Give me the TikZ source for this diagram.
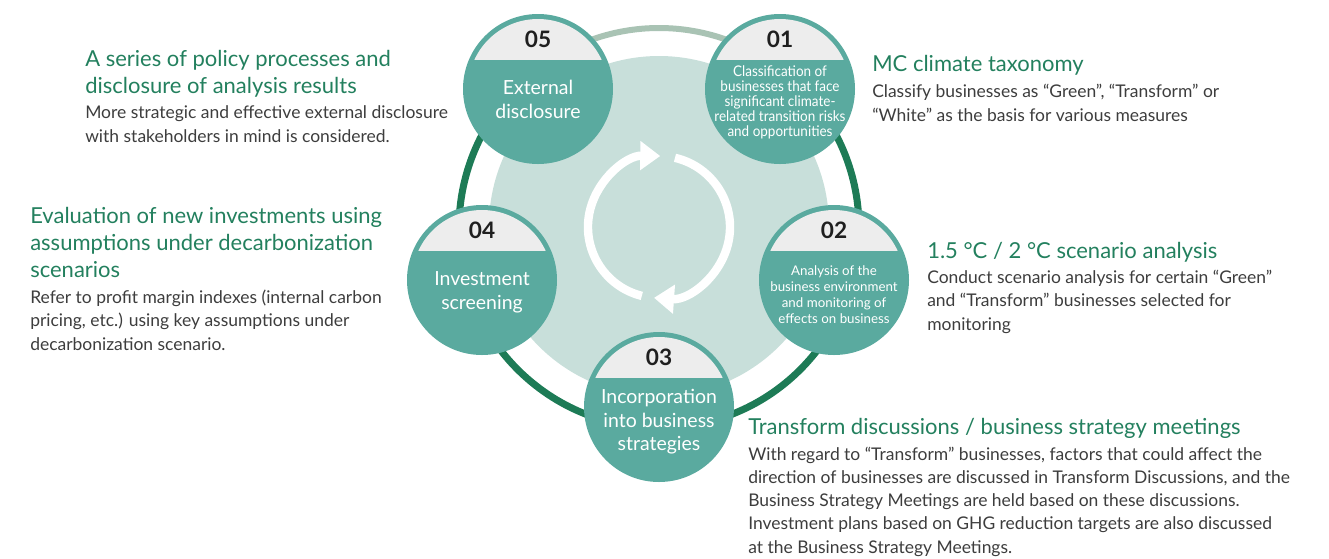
\documentclass[tikz,border=0pt]{standalone}
\usepackage{fontspec}
\setmainfont{Lato}
\newfontfamily\condfont[FakeStretch=0.92]{Lato}
\usetikzlibrary{arrows.meta,positioning}

\definecolor{stageteal}{HTML}{5AAA9F}
\definecolor{discmint}{HTML}{C8DFDA}
\definecolor{ringgreen}{HTML}{1D7B56}
\definecolor{ringgrey}{HTML}{A9C3B4}
\definecolor{capgrey}{HTML}{EDEDED}
\definecolor{headgreen}{HTML}{23805E}
\definecolor{bodygrey}{HTML}{3D3D3D}

\tikzset{
  stage/.style={circle, fill=stageteal, minimum size=112.5pt, inner sep=0pt},
  stagenum/.style={font=\fontsize{17}{17}\selectfont\bfseries, text=black!88, inner sep=0pt},
  stagetext/.style={text=white, align=center, inner sep=0pt, font=\fontsize{14.6}{17.8}\selectfont},
  stagesmall/.style={text=white, align=center, inner sep=0pt, font=\condfont\fontsize{11}{11.25}\selectfont},
  stagemid/.style={text=white, align=center, inner sep=0pt, font=\fontsize{10}{12}\selectfont},
  heading/.style={text=headgreen, align=left, inner sep=0pt, anchor=base west, font=\fontsize{16.5}{20}\selectfont},
  bodytext/.style={text=bodygrey, align=left, inner sep=0pt, anchor=base west, font=\fontsize{13.1}{17.3}\selectfont},
  cycarrow/.style={white, line width=6.3pt, -{Triangle[length=15pt,width=21pt]}},
}

\begin{document}
\begin{tikzpicture}[x=0.75pt,y=-0.75pt]
  \useasboundingbox (0,0) rectangle (1329,558);
  \coordinate (hub) at (659,228);
  \coordinate (cyc) at (659,227);

  % background disc and ring
  \fill[discmint] (659,226) circle (170);
  \draw[ringgrey, line width=4.5pt] (hub) ++(-131:200) arc[start angle=-131, end angle=-49, radius=200];
  \draw[ringgreen, line width=5.25pt] (hub) ++(-49:200) arc[start angle=-49, end angle=229, radius=200];

  % cycle arrows
  \draw[cycarrow] (cyc) ++(104:71) arc[start angle=104, end angle=271, radius=71];
  \draw[cycarrow] (cyc) ++(-77:71) arc[start angle=-77, end angle=94, radius=71];

  % stages
  \node[stage] (s5) at (538,89) {};
  \node[stage] (s1) at (780,89) {};
  \node[stage] (s4) at (482,280) {};
  \node[stage] (s2) at (834,280) {};
  \node[stage] (s3) at (659,407) {};
  \foreach \s in {s1,s2,s3,s4,s5} {
    \begin{scope}
      \clip (\s.center) ++(-80,-80) rectangle ++(160,50);
      \fill[capgrey] (\s.center) circle (70);
    \end{scope}
  }
  \foreach \s/\n in {s1/01,s2/02,s3/03,s4/04,s5/05}
    \node[stagenum] (\s-num) at ([yshift=37.5pt]\s.center) {\n};

  \node[stagetext] (t5) at ([yshift=-8pt]s5.center) {External\\disclosure};
  \node[stagesmall] (t1) at ([yshift=-10pt]s1.center) {Classification of\\businesses that face\\significant climate-\\related transition risks\\and opportunities};
  \node[stagemid] (t2) at ([yshift=-11pt]s2.center) {Analysis of the\\business environment\\and monitoring of\\effects on business};
  \node[stagetext] (t3) at ([yshift=-11pt]s3.center) {Incorporation\\into business\\strategies};
  \node[stagetext] (t4) at ([yshift=-9pt]s4.center) {Investment\\screening};

  % explanations (placed at the baseline of their last line)
  \node[heading] (h5) at (85,93) {A series of policy processes and\\disclosure of analysis results};
  \node[bodytext] (b5) at (85,142) {More strategic and effective external disclosure\\with stakeholders in mind is considered.};
  \node[heading] (h4) at (30,277) {Evaluation of new investments using\\assumptions under decarbonization\\scenarios};
  \node[bodytext] (b4) at (30,350) {Refer to profit margin indexes (internal carbon\\pricing, etc.) using key assumptions under\\decarbonization scenario.};
  \node[heading] (h1) at (872,71) {MC climate taxonomy};
  \node[bodytext] (b1) at (872,121) {Classify businesses as “Green”, “Transform” or\\“White” as the basis for various measures};
  \node[heading] (h2) at (927,258) {1.5 °C / 2 °C scenario analysis};
  \node[bodytext] (b2) at (927,330) {Conduct scenario analysis for certain “Green”\\and “Transform” businesses selected for\\monitoring};
  \node[heading] (h3) at (748,434) {Transform discussions / business strategy meetings};
  \node[bodytext] (b3) at (748,553) {With regard to “Transform” businesses, factors that could affect the\\direction of businesses are discussed in Transform Discussions, and the\\Business Strategy Meetings are held based on these discussions.\\Investment plans based on GHG reduction targets are also discussed\\at the Business Strategy Meetings.};
\end{tikzpicture}
\end{document}
